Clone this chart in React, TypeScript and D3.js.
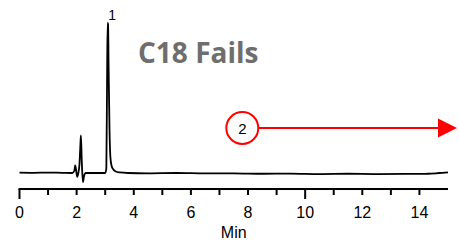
import React from "react";
import * as d3 from "d3";

// chromatogram trace (time in min, detector signal in arbitrary units)
const traceTimes = [
  0, 0.5, 1.0, 1.5, 1.85, 1.92, 1.95, 1.98, 2.02, 2.06, 2.1, 2.13, 2.15, 2.18, 2.22, 2.26,
  2.32, 2.6, 3.0, 3.04, 3.065, 3.085, 3.1, 3.12, 3.15, 3.18, 3.22, 3.28, 3.37, 3.5, 3.8, 4.5, 5.5,
  6.5, 7.5, 8.5, 9.5, 10.5, 11.5, 12.5, 13.5, 14.3, 14.7, 15,
];
const traceSignal = [
  0.2, 0.1, 0.3, 0.1, 0, 1.5, 5, 2, -2.5, 0, 6, 18, 25, 8, -6, -2,
  0, 0, 0, 3, 60, 100, 99, 70, 30, 11, 5, 2.5, 1, 0.4, 0, -0.2, 0,
  -0.3, -0.2, -0.5, -0.4, -0.7, -0.5, -0.7, -0.6, -0.5, 0, 0.4,
];

const peakLabels = [{ t: 3.1, text: "1" }];
const majorTicks = [0, 2, 4, 6, 8, 10, 12, 14];
const minorTicks = [1, 3, 5, 7, 9, 11, 13];
const longTicks = [0, 10];
const arrowStart = 7.8; // minutes, where peak 2 marker sits

export default function App() {
  const width = 459;
  const height = 240;
  const axisY = 189;

  const x = d3.scaleLinear().domain([0, 15]).range([19.5, 448]);
  const y = d3.scaleLinear().domain([0, 100]).range([173, 23]);

  const pts: [number, number][] = traceTimes.map((t, i) => [t, traceSignal[i]]);
  const line = d3
    .line<[number, number]>()
    .x((d) => x(d[0]))
    .y((d) => y(d[1]))
    .curve(d3.curveMonotoneX);

  const cx = x(arrowStart);
  const cy = 128;
  const r = 16;
  const arrowEnd = 457;

  return (
    <svg
      width={width}
      height={height}
      style={{ position: "absolute", left: 0, top: 0 }}
      fontFamily="'Liberation Sans', Arial, sans-serif"
    >
      <rect width={width} height={height} fill="#fff" />

      {/* trace */}
      <path d={line(pts) || ""} fill="none" stroke="#000" strokeWidth={1.8} />

      {peakLabels.map((p) => (
        <text key={p.text} x={x(p.t) + 4} y={20} fontSize={14} textAnchor="middle">
          {p.text}
        </text>
      ))}

      {/* title */}
      <text
        x={138}
        y={63}
        fontFamily="'Open Sans', sans-serif"
        fontWeight="bold"
        fontSize={28}
        fill="#6e6e6e"
      >
        C18 Fails
      </text>

      {/* peak 2 marker and arrow */}
      <circle cx={cx} cy={cy} r={r} fill="#fff" stroke="#ff0000" strokeWidth={2} />
      <text x={cx} y={cy + 5.5} fontSize={15} textAnchor="middle">
        2
      </text>
      <line x1={cx + r} x2={arrowEnd - 18} y1={cy} y2={cy} stroke="#ff0000" strokeWidth={2} />
      <path
        d={`M${arrowEnd - 19},${cy - 9.5}L${arrowEnd},${cy}L${arrowEnd - 19},${cy + 9.5}Z`}
        fill="#ff0000"
      />

      {/* x axis */}
      <line x1={x(0) - 1} x2={x(15)} y1={axisY} y2={axisY} stroke="#000" strokeWidth={2} />
      {[...majorTicks, ...minorTicks].map((t) => (
        <line
          key={t}
          x1={x(t)}
          x2={x(t)}
          y1={axisY}
          y2={axisY + (longTicks.includes(t) ? 10 : 6)}
          stroke="#000"
          strokeWidth={2}
        />
      ))}
      {majorTicks.map((t) => (
        <text key={t} x={x(t)} y={218} fontSize={16} textAnchor="middle">
          {t}
        </text>
      ))}
      <text x={x(7.5)} y={238} fontSize={16} textAnchor="middle">
        Min
      </text>
    </svg>
  );
}
